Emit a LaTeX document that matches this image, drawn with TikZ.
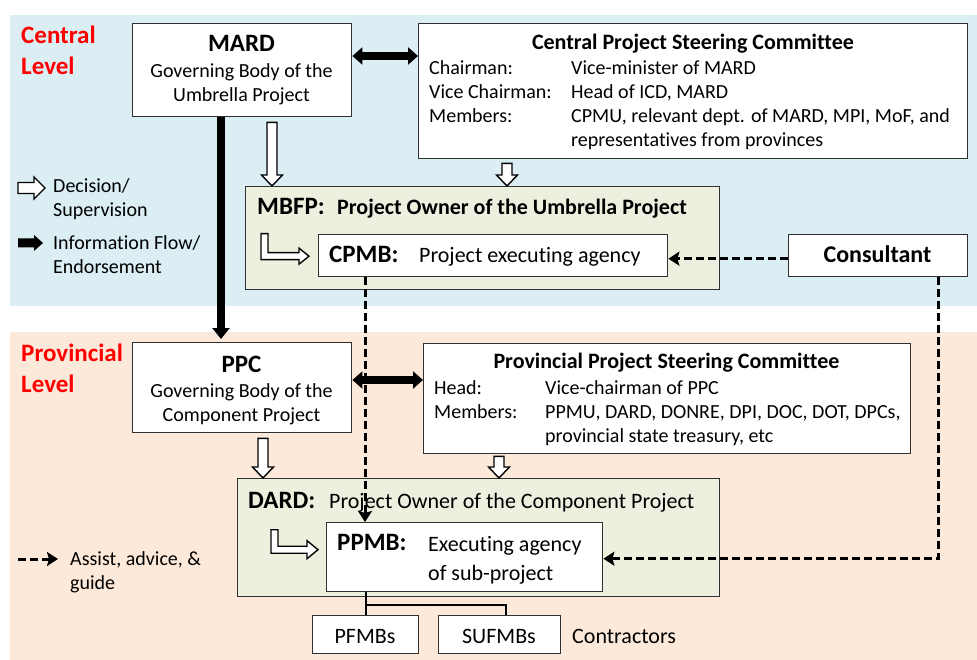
\documentclass[tikz,border=0pt]{standalone}
\usepackage{fontspec}
\setmainfont{Carlito}[Ligatures=NoCommon]
\usetikzlibrary{arrows.meta,calc}
\definecolor{bluebg}{HTML}{DAEEF3}
\definecolor{peachbg}{HTML}{FDE9D9}
\definecolor{greenc}{HTML}{EBF1DE}
\definecolor{boxc}{HTML}{303030}
\definecolor{levelred}{HTML}{FF0000}
\newcommand\fs[1]{\fontsize{#1pt}{#1pt}\selectfont}
\newcommand\hollowdown[2]{\filldraw[hollow] let \p1=(#1), \p2=(#2) in
  (\x1-5pt,\y1) -- (\x1+5pt,\y1) -- (\x1+5pt,\y2+11pt) -- (\x1+10.5pt,\y2+11pt) --
  (\x1,\y2) -- (\x1-10.5pt,\y2+11pt) -- (\x1-5pt,\y2+11pt) -- cycle;}
\tikzset{
  box/.style={draw=boxc, line width=1.4pt, fill=white, inner sep=0pt, anchor=north west},
  gbox/.style={box, fill=greenc},
  lab/.style={inner sep=0pt, anchor=base west, font=\fs{20}},
  ctr/.style={inner sep=0pt, anchor=base, font=\fs{20}},
  lvl/.style={inner sep=0pt, anchor=base west, font=\fs{25}\bfseries, text=levelred},
  hollow/.style={draw=black, fill=white, line width=1.4pt, line join=miter},
  thickarrow/.style={line width=8pt, draw=black},
  dashflow/.style={line width=3pt, dash pattern=on 8pt off 4pt,
    -{Stealth[length=11pt,width=14pt,inset=2pt]}},
  tree/.style={line width=2pt, draw=black}
}
\begin{document}
\begin{tikzpicture}[x=1pt,y=-1pt]
\useasboundingbox (0,0) rectangle (977,660);
% backgrounds
\fill[bluebg] (10,15) rectangle (977,306);
\fill[peachbg] (10,332) rectangle (977,660);

% level labels
\node[lvl] (cl1) at (21,44) {Central};
\node[lvl] (cl2) at (21,75) {Level};
\node[lvl] (pl1) at (21,361) {Provincial};
\node[lvl] (pl2) at (21,392) {Level};

% boxes
\node[box, minimum width=219pt, minimum height=93pt] (mard) at (132,23) {};
\node[box, minimum width=549pt, minimum height=135pt] (cpsc) at (418,23) {};
\node[gbox, minimum width=474pt, minimum height=103pt] (mbfp) at (245,186) {};
\node[box, minimum width=349pt, minimum height=42pt] (cpmb) at (318,234) {};
\node[box, minimum width=179pt, minimum height=42pt] (consultant) at (788,234) {};
\node[box, minimum width=219pt, minimum height=90pt] (ppc) at (132,342) {};
\node[box, minimum width=487pt, minimum height=110pt] (ppsc) at (423,343) {};
\node[gbox, minimum width=482pt, minimum height=118pt] (dard) at (237,478) {};
\node[box, minimum width=276pt, minimum height=69pt] (ppmb) at (326,522) {};
\node[box, minimum width=106pt, minimum height=38pt] (pfmbs) at (312,615) {};
\node[box, minimum width=122pt, minimum height=38pt] (sufmbs) at (438,615) {};

% MARD text
\node[ctr, font=\fs{25}\bfseries] (mardT) at (241.5,52) {MARD};
\node[ctr] (mardA) at (241.5,78) {Governing Body of the};
\node[ctr] (mardB) at (241.5,102) {Umbrella Project};

% CPSC text
\node[ctr, font=\fs{22}\bfseries] (cpscT) at (693,50) {Central Project Steering Committee};
\node[lab] (cpscA) at (429,75) {Chairman:};
\node[lab] (cpscA2) at (571,75) {Vice-minister of MARD};
\node[lab] (cpscB) at (429,99) {Vice Chairman:};
\node[lab] (cpscB2) at (571,99) {Head of ICD, MARD};
\node[lab] (cpscC) at (429,123) {Members:};
\node[lab] (cpscC2) at (571,123) {CPMU, relevant dept. of MARD, MPI, MoF, and};
\node[lab] (cpscC3) at (571,147) {representatives from provinces};

% MBFP / CPMB / Consultant text
\node[lab, font=\fs{25}\bfseries] (mbfpT) at (257,215) {MBFP:};
\node[lab, font=\fs{22}\bfseries] (mbfpA) at (337,215) {Project Owner of the Umbrella Project};
\node[lab, font=\fs{25}\bfseries] (cpmbT) at (329,263) {CPMB:};
\node[lab, font=\fs{22}] (cpmbA) at (419,263) {Project executing agency};
\node[ctr, font=\fs{24}\bfseries] (consT) at (877.5,263) {Consultant};

% PPC text
\node[ctr, font=\fs{25}\bfseries] (ppcT) at (241.5,372) {PPC};
\node[ctr] (ppcA) at (241.5,397) {Governing Body of the};
\node[ctr] (ppcB) at (241.5,421) {Component Project};

% PPSC text
\node[ctr, font=\fs{22}\bfseries] (ppscT) at (666.5,368) {Provincial Project Steering Committee};
\node[lab] (ppscA) at (434,394) {Head:};
\node[lab] (ppscA2) at (545,394) {Vice-chairman of PPC};
\node[lab] (ppscB) at (434,418) {Members:};
\node[lab] (ppscB2) at (545,418) {PPMU, DARD, DONRE, DPI, DOC, DOT, DPCs,};
\node[lab] (ppscB3) at (545,442) {provincial state treasury, etc};

% DARD / PPMB text
\node[lab, font=\fs{25}\bfseries] (dardT) at (248,508) {DARD:};
\node[lab, font=\fs{22}] (dardA) at (329,508) {Project Owner of the Component Project};
\node[lab, font=\fs{25}\bfseries] (ppmbT) at (337,550) {PPMB:};
\node[lab, font=\fs{22}] (ppmbA) at (428,551) {Executing agency};
\node[lab, font=\fs{22}] (ppmbB) at (428,580) {of sub-project};

% contractors
\node[ctr, font=\fs{22}] (pfT) at (365,643) {PFMBs};
\node[ctr, font=\fs{22}] (suT) at (499,643) {SUFMBs};
\node[lab, font=\fs{22}] (contr) at (572,643) {Contractors};

% legend
\filldraw[hollow] (18,182.5) -- (34,182.5) -- (34,177) -- (45,188) -- (34,199) -- (34,193.5) -- (18,193.5) -- cycle;
\node[lab] (lgA) at (53,193) {Decision/};
\node[lab] (lgB) at (53,217) {Supervision};
\fill[black] (18,238.5) -- (34,238.5) -- (34,235) -- (43,243) -- (34,251) -- (34,247.5) -- (18,247.5) -- cycle;
\node[lab] (lgC) at (53,250) {Information Flow/};
\node[lab] (lgD) at (53,274) {Endorsement};
\coordinate (lg1) at (18,559);
\coordinate (lg2) at (58,559);
\draw[dashflow] (lg1) -- (lg2);
\node[lab] (lgE) at (70,565) {Assist, advice, \&};
\node[lab] (lgF) at (70,589) {guide};

% thick black arrows
\coordinate (d1) at ($(mard.north east)+(0,33)$);
\draw[thickarrow, {Triangle[width=17pt,length=10pt]}-{Triangle[width=17pt,length=10pt]}] (d1) -- (d1 -| cpsc.west);
\coordinate (d2) at ($(ppc.north east)+(0,38)$);
\draw[thickarrow, {Triangle[width=17pt,length=10pt]}-{Triangle[width=17pt,length=10pt]}] (d2) -- (d2 -| ppsc.west);
\coordinate (d3) at ($(mard.south west)+(89,0)$);
\draw[thickarrow, -{Triangle[width=17pt,length=11pt]}] (d3) -- ($(d3 |- ppc.north)+(0,-3)$);

% hollow decision arrows
\coordinate (h1) at ($(mard.south west)+(140,5)$);
\hollowdown{h1}{h1 |- mbfp.north}
\coordinate (h2) at ($(cpsc.south west)+(89,4)$);
\hollowdown{h2}{h2 |- mbfp.north}
\coordinate (h3) at ($(ppc.south west)+(131,5)$);
\hollowdown{h3}{h3 |- dard.north}
\coordinate (h4) at ($(ppsc.south west)+(76,2)$);
\hollowdown{h4}{h4 |- dard.north}

% L-shaped hollow arrows
\begin{scope}[shift={($(cpmb.west)+(-9,0.5)$)}]
\filldraw[hollow] (-48,-22.5) -- (-41,-22.5) -- (-41,-3.5) -- (-10,-3.5) -- (-10,-8) -- (0,0) -- (-10,8) -- (-10,3.5) -- (-48,3.5) -- cycle;
\end{scope}
\begin{scope}[shift={($(ppmb.west)+(-8,-7.5)$)}]
\filldraw[hollow] (-47,-20) -- (-40,-20) -- (-40,-3.5) -- (-11,-3.5) -- (-11,-9) -- (0,0) -- (-11,9) -- (-11,3.5) -- (-47,3.5) -- cycle;
\end{scope}

% tree to contractors
\coordinate (p0) at ($(ppmb.south west)+(40,0)$);
\draw[tree] (p0) -- (p0 |- pfmbs.north);
\coordinate (p1) at ($(p0)+(0,13)$);
\coordinate (p2) at ($(sufmbs.north)+(6,0)$);
\draw[tree] (p1) -| (p2);

% dashed assist arrows
\draw[dashflow] ($(consultant.west)+(0,3)$) -- ($(cpmb.east)+(0,3)$);
\coordinate (c2) at ($(cpmb.south west)+(47,0)$);
\draw[dashflow] (c2) -- (c2 |- ppmb.north);
\coordinate (c3) at ($(consultant.south)+(60.5,0)$);
\draw[dashflow] (c3) |- ($(ppmb.east)+(0,1.5)$);
\end{tikzpicture}
\end{document}
